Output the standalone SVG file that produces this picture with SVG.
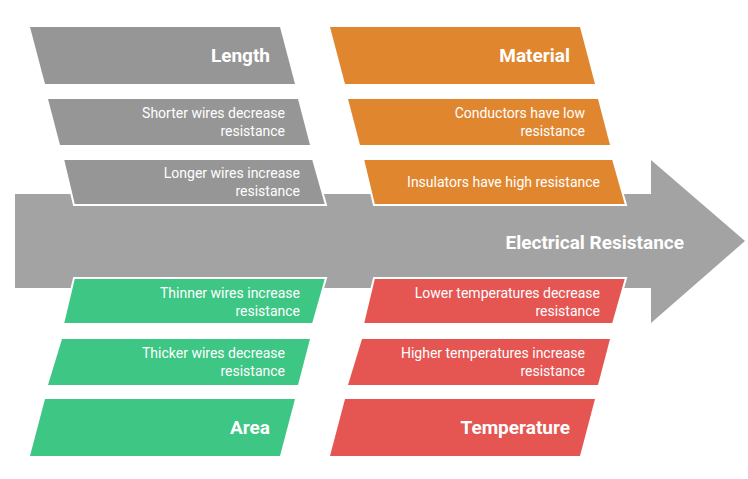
<svg xmlns="http://www.w3.org/2000/svg" width="748" height="479" viewBox="0 0 748 479">
<style>
text{font-family:Roboto,"Liberation Sans",sans-serif;fill:#fff;text-anchor:end}
.h{font-size:19px;font-weight:bold}
.i{font-size:14px}
.s{stroke:#fff;stroke-width:2}
.g{fill:#969696}.o{fill:#e0862f}.gr{fill:#3dc684}.r{fill:#e55552}
</style>
<rect width="748" height="479" fill="#fff"/>
<g id="arrow"><polygon points="15,194 651,194 651,160 745,241 651,323 651,288 15,288" fill="#a3a3a3"/>
<text class="h" x="684" y="249">Electrical Resistance</text></g>
<g id="length"><polygon class="g" points="30,27 280,27 295,84 45,84"/><text class="h" x="270" y="62">Length</text></g>
<g id="shorter"><polygon class="g" points="48,99 298,99 310,145 60,145"/><text class="i" x="285" y="118">Shorter wires decrease</text><text class="i" x="285" y="136">resistance</text></g>
<g id="longer"><polygon class="g s" points="63,159 313,159 326,205 74,205"/><text class="i" x="300" y="178">Longer wires increase</text><text class="i" x="300" y="196">resistance</text></g>
<g id="material"><polygon class="o" points="330,27 580,27 595,84 345,84"/><text class="h" x="570" y="62">Material</text></g>
<g id="conductors"><polygon class="o" points="348,99 598,99 610,145 360,145"/><text class="i" x="585" y="118">Conductors have low</text><text class="i" x="585" y="136">resistance</text></g>
<g id="insulators"><polygon class="o s" points="363,159 613,159 626,205 374,205"/><text class="i" x="600" y="187">Insulators have high resistance</text></g>
<g id="thinner"><polygon class="gr s" points="74,278 326,278 313,324 63,324"/><text class="i" x="300" y="298">Thinner wires increase</text><text class="i" x="300" y="316">resistance</text></g>
<g id="thicker"><polygon class="gr" points="62,339 310,339 298,385 48,385"/><text class="i" x="285" y="358">Thicker wires decrease</text><text class="i" x="285" y="376">resistance</text></g>
<g id="area"><polygon class="gr" points="45,399 295,399 280,456 30,456"/><text class="h" x="270" y="434">Area</text></g>
<g id="lower"><polygon class="r s" points="374,278 626,278 613,324 363,324"/><text class="i" x="600" y="298">Lower temperatures decrease</text><text class="i" x="600" y="316">resistance</text></g>
<g id="higher"><polygon class="r" points="362,339 610,339 598,385 348,385"/><text class="i" x="585" y="358">Higher temperatures increase</text><text class="i" x="585" y="376">resistance</text></g>
<g id="temperature"><polygon class="r" points="345,399 595,399 580,456 330,456"/><text class="h" x="570" y="434">Temperature</text></g>
<g id="connectors"/>
</svg>
